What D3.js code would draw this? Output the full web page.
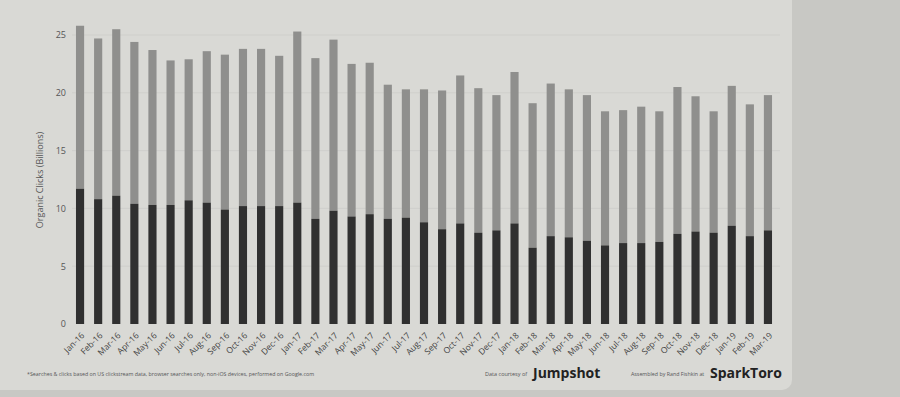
<!DOCTYPE html>
<html>
<head>
<meta charset="utf-8">
<script src="https://cdn.jsdelivr.net/npm/d3@7"></script>
<style>
  body { margin: 0; background: #c8c8c4; }
  svg { display: block; font-family: "Open Sans", sans-serif; }
</style>
</head>
<body>
<svg id="chart"></svg>
<script>
(function () {

    var months = ['Jan-16','Feb-16','Mar-16','Apr-16','May-16','Jun-16','Jul-16','Aug-16','Sep-16','Oct-16','Nov-16','Dec-16',
        'Jan-17','Feb-17','Mar-17','Apr-17','May-17','Jun-17','Jul-17','Aug-17','Sep-17','Oct-17','Nov-17','Dec-17',
        'Jan-18','Feb-18','Mar-18','Apr-18','May-18','Jun-18','Jul-18','Aug-18','Sep-18','Oct-18','Nov-18','Dec-18',
        'Jan-19','Feb-19','Mar-19'];
    // lower (dark) part of each bar
    var darkPart = [11.7,10.8,11.1,10.4,10.3,10.3,10.7,10.5,9.9,10.2,10.2,10.2,
        10.5,9.1,9.8,9.3,9.5,9.1,9.2,8.8,8.2,8.7,7.9,8.1,
        8.7,6.6,7.6,7.5,7.2,6.8,7.0,7.0,7.1,7.8,8.0,7.9,
        8.5,7.6,8.1];
    // total bar height
    var totals = [25.8,24.7,25.5,24.4,23.7,22.8,22.9,23.6,23.3,23.8,23.8,23.2,
        25.3,23.0,24.6,22.5,22.6,20.7,20.3,20.3,20.2,21.5,20.4,19.8,
        21.8,19.1,20.8,20.3,19.8,18.4,18.5,18.8,18.4,20.5,19.7,18.4,
        20.6,19.0,19.8];
    var yTicks = [0,5,10,15,20,25];

    var width = 900, height = 397;
    var svg = d3.select('#chart').attr('width', width).attr('height', height);

    // paper card
    svg.append('rect').attr('x', -20).attr('y', -20).attr('width', 812).attr('height', 410)
        .attr('rx', 10).attr('fill', '#d9d9d5');

    var x = d3.scaleBand().domain(months).range([71, 777]).paddingInner(0.55).paddingOuter(0.275);
    var y = d3.scaleLinear().domain([0, 25]).range([324, 35]);

    // faint grid
    svg.append('g').selectAll('line').data(yTicks.slice(1)).enter().append('line')
        .attr('x1', 72).attr('x2', 780)
        .attr('y1', d => y(d)).attr('y2', d => y(d))
        .attr('stroke', '#cdcdc9').attr('stroke-width', 0.8);

    // y axis
    var yAxis = svg.append('g').attr('transform', 'translate(66,0)')
        .call(d3.axisLeft(y).tickValues(yTicks).tickSize(0).tickPadding(0));
    yAxis.select('.domain').remove();
    yAxis.selectAll('text').attr('fill', '#555').attr('font-size', 9).attr('font-family', '"Open Sans", sans-serif');

    svg.append('text').attr('transform', 'translate(43,180) rotate(-90)')
        .attr('text-anchor', 'middle').attr('fill', '#555').attr('font-size', 9)
        .text('Organic Clicks (Billions)');

    // bars
    var g = svg.append('g');
    g.selectAll('.top').data(months).enter().append('rect')
        .attr('x', d => x(d)).attr('width', x.bandwidth())
        .attr('y', (d, i) => y(totals[i]))
        .attr('height', (d, i) => y(darkPart[i]) - y(totals[i]))
        .attr('fill', '#8f8f8d');
    g.selectAll('.bottom').data(months).enter().append('rect')
        .attr('x', d => x(d)).attr('width', x.bandwidth())
        .attr('y', (d, i) => y(darkPart[i]))
        .attr('height', (d, i) => y(0) - y(darkPart[i]))
        .attr('fill', '#303030');

    // x axis
    var xAxis = svg.append('g').attr('transform', 'translate(0,' + y(0) + ')')
        .call(d3.axisBottom(x).tickSize(0).tickPadding(0));
    xAxis.select('.domain').remove();
    xAxis.selectAll('text')
        .attr('text-anchor', 'end').attr('dy', 0).attr('y', 0)
        .attr('transform', 'translate(5,12) rotate(-45)')
        .attr('fill', '#444').attr('font-size', 8.5).attr('font-family', '"Open Sans", sans-serif');

    // footer
    svg.append('text').attr('x', 27).attr('y', 376).attr('font-size', 5.3).attr('fill', '#555')
        .text('*Searches & clicks based on US clickstream data, browser searches only, non-iOS devices, performed on Google.com');
    svg.append('text').attr('x', 485).attr('y', 376).attr('font-size', 5.5).attr('fill', '#555')
        .text('Data courtesy of');
    svg.append('text').attr('x', 533).attr('y', 378).attr('font-size', 14).attr('font-weight', 'bold')
        .attr('fill', '#222').text('Jumpshot');
    svg.append('text').attr('x', 631).attr('y', 376).attr('font-size', 5.3).attr('fill', '#555')
        .text('Assembled by Rand Fishkin at');
    svg.append('text').attr('x', 710).attr('y', 378).attr('font-size', 14).attr('font-weight', 'bold')
        .attr('fill', '#222').text('SparkToro');

})();
</script>
</body>
</html>
